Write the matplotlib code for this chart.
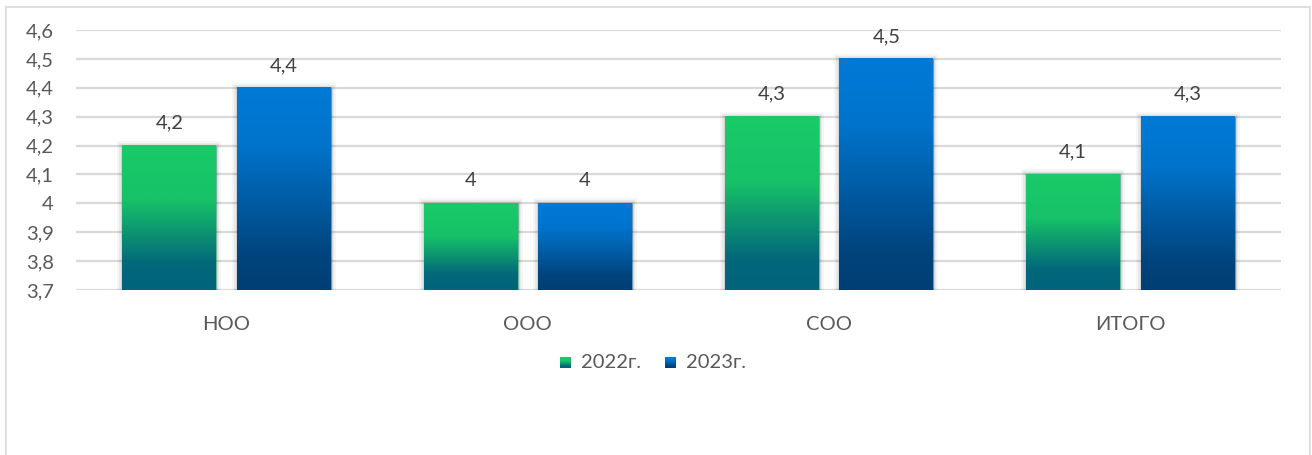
import numpy as np
import matplotlib
matplotlib.use("Agg")
import matplotlib.pyplot as plt
from matplotlib.colors import LinearSegmentedColormap
from matplotlib.patches import Rectangle
import matplotlib.patheffects as pe

categories = ["НОО", "ООО", "СОО", "ИТОГО"]
series_names = ["2022г.", "2023г."]
values_2022 = [4.2, 4.0, 4.3, 4.1]
values_2023 = [4.4, 4.0, 4.5, 4.3]
y_ticks = [3.7, 3.8, 3.9, 4.0, 4.1, 4.2, 4.3, 4.4, 4.5, 4.6]

plt.rcParams['font.family'] = ['Lato', 'DejaVu Sans']

W, H = 1312, 455
fig = plt.figure(figsize=(W / 100, H / 100), dpi=100)
fig.patch.set_facecolor('white')

# outer chart frame
fig.add_artist(Rectangle((6 / W, -0.05), (1310 - 6) / W, (H - 7) / H + 0.05,
                         transform=fig.transFigure, fill=False,
                         edgecolor='#d9d9d9', linewidth=1.2))

ax = fig.add_axes([76 / W, (H - 290) / H, (1281 - 76) / W, 260 / H])

cmap_green = LinearSegmentedColormap.from_list(
    'g', [(0.0, '#02637a'), (0.18, '#03687a'), (0.62, '#17c168'), (1.0, '#19cb68')])
cmap_blue = LinearSegmentedColormap.from_list(
    'b', [(0.0, '#003f74'), (0.15, '#00437b'), (0.72, '#0074cc'), (1.0, '#007ad6')])

ymin, ymax = 3.7, 4.6
x = np.arange(len(categories))
width = 0.312
offset = 0.19
grad = np.linspace(0, 1, 256).reshape(-1, 1)

shadow_fx = [pe.withStroke(linewidth=7, foreground=(0, 0, 0, 0.04)),
             pe.withStroke(linewidth=4, foreground=(0, 0, 0, 0.06)),
             pe.withStroke(linewidth=2, foreground=(0, 0, 0, 0.08))]

FS = 14.5

for vals, cmap, sign in [(values_2022, cmap_green, -1), (values_2023, cmap_blue, 1)]:
    xs = x + sign * offset
    bars = ax.bar(xs, np.array(vals) - ymin, width=width, bottom=ymin,
                  color=cmap(0.5), zorder=3, linewidth=0)
    for b, v in zip(bars, vals):
        b.set_path_effects(shadow_fx + [pe.Normal()])
        x0 = b.get_x()
        ax.imshow(grad, cmap=cmap, origin='lower', aspect='auto',
                  extent=(x0, x0 + width, ymin, v), zorder=4,
                  interpolation='bilinear')
        lbl = f"{v:g}".replace('.', ',')
        ax.annotate(lbl, (b.get_x() + width / 2, v), xytext=(0, 10),
                    textcoords='offset points', ha='center', va='bottom',
                    fontsize=FS, color='#404040', zorder=5)

ax.set_xlim(-0.5, len(categories) - 0.5)
ax.set_ylim(ymin, ymax)
ax.set_yticks(y_ticks)
ax.set_yticklabels([f"{t:g}".replace('.', ',') for t in y_ticks])
ax.set_xticks(x)
ax.set_xticklabels(categories)
ax.tick_params(axis='both', length=0, labelsize=FS, labelcolor='#595959')
ax.tick_params(axis='y', pad=16)
ax.tick_params(axis='x', pad=19)
ax.grid(axis='y', color='#d9d9d9', linewidth=1.6, zorder=0)
ax.set_axisbelow(True)
for s in ax.spines.values():
    s.set_visible(False)
ax.set_facecolor('none')

# legend
leg_y = 362
for (name, cmap, sx, tx) in [(series_names[0], cmap_green, 560, 581),
                              (series_names[1], cmap_blue, 665, 686)]:
    lax = fig.add_axes([sx / W, (H - leg_y - 6) / H, 11 / W, 11 / H])
    lax.imshow(grad, cmap=cmap, origin='lower', aspect='auto')
    lax.axis('off')
    fig.text(tx / W, (H - leg_y) / H, name, ha='left', va='center',
             fontsize=FS, color='#595959')

fig.savefig('out.png', dpi=100, facecolor='white')
